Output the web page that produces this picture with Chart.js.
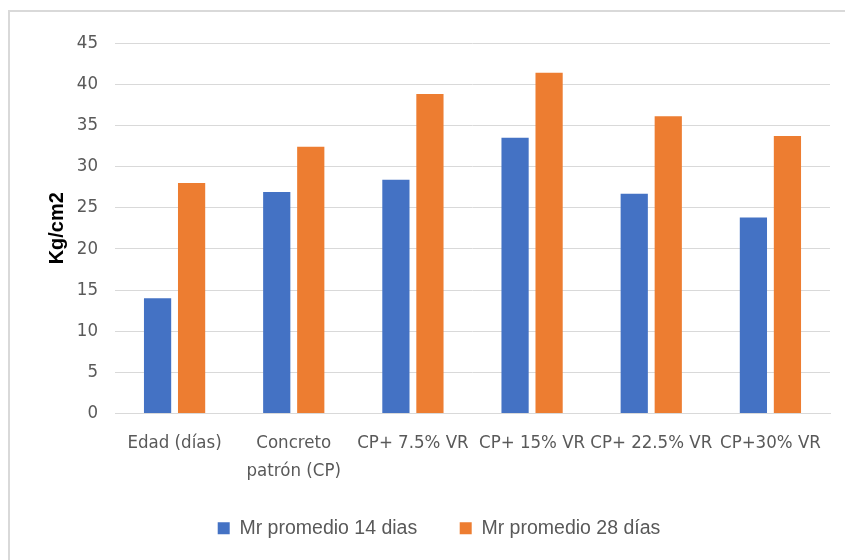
<!DOCTYPE html>
<html>
<head>
<meta charset="utf-8">
<script src="https://cdn.jsdelivr.net/npm/chart.js@4.4.0/dist/chart.umd.min.js"></script>
<style>
  body { margin: 0; background: #ffffff; }
  .wrap { position: relative; width: 845px; height: 560px; overflow: hidden; }
  .frame { position: absolute; left: 8px; top: 10px; width: 900px; height: 600px; border: 2px solid #d9d9d9; box-sizing: border-box; }
  canvas { position: absolute; left: 0; top: 0; }
</style>
</head>
<body>
<div class="wrap">
  <div class="frame"></div>
  <canvas class="chart" width="845" height="560"></canvas>
</div>
<script>
// datos del grafico
const categorias = ["Edad (días)", ["Concreto", "patrón (CP)"], "CP+ 7.5% VR", "CP+ 15% VR", "CP+ 22.5% VR", "CP+30% VR"];
const mr14 = [14.0, 26.9, 28.4, 33.5, 26.7, 23.8];
const mr28 = [28.0, 32.4, 38.8, 41.4, 36.1, 33.7];
const serieNombres = ["Mr promedio 14 dias", "Mr promedio 28 días"];
const colores = ["#4472C4", "#ED7D31"];
const tituloY = "Kg/cm2";

const canvas = document.querySelector(".chart");
const narrow = "'DejaVu Sans Condensed', 'Liberation Sans Narrow', 'Liberation Sans', sans-serif";
const gris = "#595959";

// mueve la leyenda un poco a la derecha, como en el original
const moverLeyenda = {
    id: 'moverLeyenda',
    afterLayout: function (chart) {
        chart.legend.left += 24;
        chart.legend.right += 24;
    }
};

new Chart(canvas, {
    type: 'bar',
    data: {
        labels: categorias,
        datasets: [{
            label: serieNombres[0],
            data: mr14,
            backgroundColor: colores[0]
        }, {
            label: serieNombres[1],
            data: mr28,
            backgroundColor: colores[1]
        }]
    },
    plugins: [moverLeyenda],
    options: {
        responsive: false,
        animation: false,
        categoryPercentage: 0.571,
        barPercentage: 0.8,
        layout: {
            padding: { left: 0, right: 15, top: 43, bottom: 12 }
        },
        plugins: {
            tooltip: { enabled: false },
            legend: {
                position: 'bottom',
                labels: {
                    boxWidth: 12,
                    boxHeight: 12,
                    padding: 10,
                    color: gris,
                    font: { family: "'Liberation Sans', sans-serif", size: 19.5 },
                    // espacio extra entre las dos entradas de la leyenda
                    generateLabels: function (chart) {
                        const items = Chart.defaults.plugins.legend.labels.generateLabels(chart);
                        items[0].text = items[0].text + "\u00a0\u00a0\u00a0\u00a0\u00a0\u00a0";
                        return items;
                    }
                }
            }
        },
        scales: {
            x: {
                grid: { display: false, drawTicks: false },
                border: { display: true, color: "#d9d9d9", width: 1 },
                ticks: {
                    color: gris,
                    padding: 16,
                    maxRotation: 0,
                    autoSkip: false,
                    font: { family: narrow, size: 18.5, lineHeight: 1.5 }
                },
                afterFit: function (scale) { scale.height = 95; }
            },
            y: {
                min: 0,
                max: 45,
                ticks: {
                    stepSize: 5,
                    color: gris,
                    padding: 17,
                    font: { family: narrow, size: 18.5 }
                },
                grid: { color: "#d9d9d9", lineWidth: 1, drawTicks: false },
                border: { display: false },
                title: {
                    display: true,
                    text: tituloY,
                    color: "#000000",
                    padding: { top: 45, bottom: 0 },
                    font: { family: "'Liberation Sans', sans-serif", size: 20, weight: 'bold' }
                },
                afterFit: function (scale) { scale.width = 115; }
            }
        }
    }
});
</script>
</body>
</html>
